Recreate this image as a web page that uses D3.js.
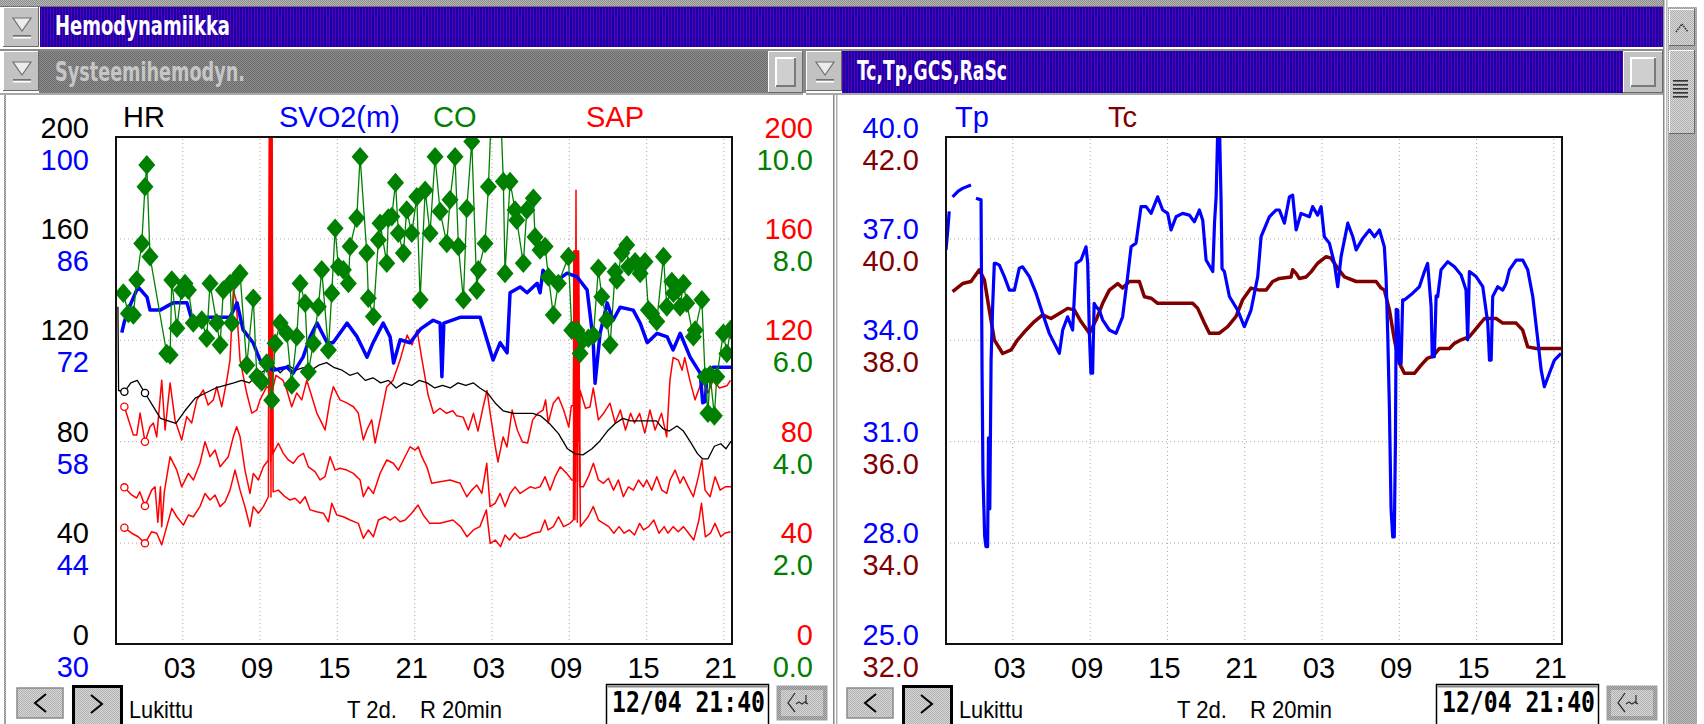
<!DOCTYPE html>
<html>
<head>
<meta charset="utf-8">
<title>Hemodynamiikka</title>
<script src="https://cdn.jsdelivr.net/npm/d3@7"></script>
<style>
  html, body { margin: 0; padding: 0; background: #fff; overflow: hidden; }
  svg { display: block; }
</style>
</head>
<body>
<div id="chart"></div>
<script>
// time axis: hours since 11/04 00:00, window ends 12/04 21:40 (T 2d.)
const hourDomain = [-2.15, 45.67];
const hourTicks = [3, 9, 15, 21, 27, 33, 39, 45];
const hourLabels = ['03', '09', '15', '21', '03', '09', '15', '21'];

// axis label values
const hrTicks = [0, 40, 80, 120, 160, 200];
const svoTicks = [30, 44, 58, 72, 86, 100];
const sapTicks = [0, 40, 80, 120, 160, 200];
const coTicks = [0, 2, 4, 6, 8, 10];
const tpTicks = [25, 28, 31, 34, 37, 40];
const tcTicks = [32, 34, 36, 38, 40, 42];

// first two samples are drawn with a small "o"
const startMarks = [-1.5, 0.1];

// HR, black
const hrData = [
  [-2.0,133],[-1.95,100],[-1.5,99.5],[-1.0,103],[-0.5,104],[0.1,99],[0.7,94],[1.3,89],[1.9,88],[2.5,87],
  [3.2,92],[4.0,97],[4.8,99],[5.6,101],[6.3,102],[7.0,103],[7.6,104],[8.2,103],[8.8,106],[9.4,108],
  [10.0,110],[10.6,107],[11.2,110],[11.8,108],[12.4,109],[13.0,108],[13.6,110],[14.2,111],[14.8,109],[15.4,108],
  [16.0,106],[16.6,107],[17.2,104],[17.8,105],[18.4,103],[19.0,104],[19.6,101],[20.2,103],[20.8,102],[21.4,104],
  [22.0,103],[22.6,101],[23.2,102],[23.8,101],[24.4,103],[25.0,102],[25.6,103],[26.1,101],[26.7,99],[27.3,95],
  [27.9,92],[28.7,91],[29.5,91],[30.2,91],[30.8,90],[31.5,87],[32.2,83],[32.9,77],[33.5,75],[34.1,74.6],
  [34.8,77],[35.4,80],[36.0,84],[36.6,87],[37.2,89],[37.8,88],[38.5,88],[39.2,88],[39.8,88],[40.3,85],
  [40.8,84],[41.4,86],[41.9,84],[42.4,80],[43.0,75],[43.4,73],[43.8,73],[44.3,78],[44.8,79],[45.2,77],[45.6,80]
];

// SVO2(m), blue
const svo2Data = [
  [-1.7,73.0],[-1.5,74.5],[-1.0,77.0],[-0.44,79.3],[0.26,77.9],[0.49,76.1],[1.27,76.1],[2.28,77.1],[3.36,77.1],[3.75,74.7],
  [4.92,75.1],[6.7,75.1],[7.25,77.1],[7.71,73.4],[8.49,71.6],[9.03,69.2],[10.04,67.8],[11.13,68.2],[11.6,67.4],[12.37,69.6],
  [12.92,72.4],[13.46,74.3],[14.24,71.6],[14.7,71.6],[15.79,74.3],[16.57,72.4],[17.34,69.6],[17.81,71.6],[18.59,74.3],[19.13,72.4],
  [19.4,68.8],[19.91,72.0],[20.68,71.6],[21.5,73.5],[22.47,74.7],[23.01,74.3],[23.15,66.9],[23.3,74.3],[24.56,75.1],[26.12,75.1],
  [27.12,69.2],[27.67,71.6],[28.21,70.2],[28.44,78.5],[29.22,79.3],[29.76,78.5],[30.54,79.8],[30.77,78.5],[31.0,81.6],[31.78,79.8],
  [32.87,81.2],[33.64,80.7],[34.42,78.9],[34.89,72.0],[35.04,66.0],[35.43,72.9],[35.98,77.1],[36.44,74.7],[36.99,76.5],[38.0,76.1],
  [38.54,74.3],[39.09,71.6],[39.86,72.9],[40.64,72.4],[41.1,70.6],[41.65,72.9],[42.42,69.6],[43.2,67.4],[43.4,63.3],[43.6,63.5],
  [43.74,67.8],[44.21,68.2],[45.67,68.2]
];

// CO, green with markers
const coData = [
  [-1.58,6.92],[-1.19,6.52],[-0.80,6.49],[-0.54,7.18],[-0.15,7.90],[0.10,9.02],[0.24,9.45],[0.49,7.64],[1.79,5.73],[2.05,5.70],
  [2.18,7.18],[2.57,6.23],[2.95,6.98],[3.21,7.11],[3.47,6.98],[3.85,6.33],[4.51,6.39],[4.89,6.03],[5.15,7.11],[5.67,6.33],
  [5.93,5.90],[6.18,6.98],[6.70,7.11],[6.84,6.33],[7.09,7.18],[7.48,7.31],[8.00,5.50],[8.51,6.82],[8.78,5.27],[9.03,5.21],
  [9.16,5.17],[9.55,5.54],[9.94,4.81],[10.20,5.93],[10.59,6.33],[11.11,6.13],[11.49,5.11],[11.88,6.06],[12.14,7.11],[12.53,6.72],
  [12.78,5.37],[13.17,5.93],[13.56,6.65],[13.82,7.38],[14.34,5.80],[14.60,6.92],[14.86,8.20],[15.11,7.44],[15.50,7.38],[15.89,7.11],
  [16.02,7.84],[16.54,8.40],[16.80,9.61],[17.32,7.71],[17.44,6.82],[17.83,6.46],[18.22,7.97],[18.35,8.30],[18.87,7.51],[18.99,8.40],
  [19.26,8.43],[19.55,9.10],[19.77,8.10],[20.16,7.71],[20.42,8.56],[20.81,8.10],[21.20,8.82],[21.46,6.79],[21.85,8.95],[22.23,8.10],
  [22.62,9.61],[23.01,8.53],[23.53,7.90],[23.78,8.76],[24.17,9.61],[24.43,7.84],[24.82,6.79],[25.08,8.59],[25.47,9.91],[25.86,6.98],
  [25.98,7.38],[26.50,7.90],[26.76,9.02],[27.05,10.9],[27.65,10.9],[27.92,9.12],[28.05,7.31],[28.44,9.12],[28.83,8.56],[28.96,8.36],
  [29.47,7.51],[29.74,8.56],[30.25,8.79],[30.38,8.03],[30.77,7.77],[31.16,7.84],[31.42,7.24],[31.80,6.49],[32.19,7.11],[32.97,7.64],
  [33.23,6.19],[33.62,6.19],[33.88,5.73],[34.13,6.00],[34.52,6.03],[34.91,6.09],[35.30,7.41],[35.56,6.85],[35.95,6.39],[36.21,5.90],
  [36.60,7.34],[36.73,7.18],[37.11,7.71],[37.50,7.87],[37.63,7.44],[38.15,7.54],[38.54,7.31],[38.92,7.54],[39.18,6.59],[39.44,6.52],
  [39.83,6.36],[40.35,7.64],[40.61,6.65],[41.00,7.15],[41.12,6.92],[41.39,6.98],[41.64,6.65],[41.90,7.11],[42.16,6.72],[42.67,6.06],
  [42.81,6.19],[43.33,6.79],[43.58,5.27],[43.80,4.55],[43.97,5.31],[44.30,4.50],[44.49,5.27],[45.00,6.13],[45.27,5.73],[45.55,6.2]
];

// SAP systolic / mean / diastolic, red (artefact bursts near 10 h and 33.5 h)
const sapSys = [
  [-1.5,93.6],[-0.8,82.4],[-0.54,82.4],[-0.28,91.1],[0.1,79.8],[0.49,85.7],[0.75,87.2],[1.01,81.7],[1.4,104],[1.66,84.4],
  [2.05,103],[2.43,88.4],[2.95,80.5],[3.34,89.7],[3.73,87.2],[4.12,96.3],[4.63,100.2],[5.0,94.3],[5.41,96.3],[5.67,101.5],
  [6.06,93.6],[6.45,104],[6.7,112],[6.96,139.6],[7.17,135.7],[7.48,112],[8.0,98.9],[8.39,91.1],[8.78,92.3],[9.03,96.3],
  [9.55,101.5],[9.72,101],[9.76,215],[9.84,95],[9.9,215],[9.98,100],[10.27,106],[10.82,104],[11.11,100.2],[11.49,93.6],
  [11.88,99],[12.27,96.3],[12.66,104],[13.05,97.6],[13.44,91.1],[13.82,87.2],[14.08,84.4],[14.47,96.3],[14.72,101.5],[15.24,96.3],
  [15.76,95.1],[16.28,93.6],[16.66,91.1],[17.05,80.5],[17.32,84.4],[17.7,88.4],[17.96,79.3],[18.35,88.4],[18.87,101.5],[19.36,104],
  [19.9,112],[20.45,121.9],[20.83,118],[21.22,123.9],[21.61,112],[22.08,98.2],[22.5,91],[23.0,93],[23.5,91],[24.0,92],
  [24.3,90],[24.8,89.5],[25.2,84.4],[25.6,91],[25.95,84],[26.35,93.5],[26.65,100],[26.9,91],[27.3,77.7],[27.5,71.8],
  [27.9,81.7],[28.2,77.7],[28.6,92.3],[29.0,84.4],[29.4,79.7],[29.8,79.3],[30.2,88.4],[30.6,91],[31.0,92.3],[31.2,96.3],
  [31.4,87.2],[31.8,95],[32.2,97.4],[32.6,92.3],[33.0,85.6],[33.2,94],[33.35,94],[33.42,155],[33.5,80],[33.56,179],
  [33.62,78],[33.7,155],[33.78,80],[33.88,100],[34.3,93],[34.65,93.5],[34.9,101],[35.3,88.4],[35.7,91],[36.2,95],
  [36.6,87.2],[37.0,92.3],[37.4,84.4],[37.8,91],[38.1,87.2],[38.5,91],[38.9,83.2],[39.3,92.3],[39.7,84.4],[40.2,91],
  [40.6,81.7],[40.85,104],[41.1,113],[41.5,112],[41.8,108],[42.0,113],[42.4,104],[42.8,96.3],[43.35,104],[43.8,99],
  [44.2,104],[44.7,101],[45.3,102],[45.55,104]
];
const sapMean = [
  [-1.5,61.8],[-0.94,58.8],[-0.55,57.6],[-0.3,60],[0.1,54.4],[0.62,60.7],[0.88,62],[1.1,48],[1.3,62],[1.4,46.3],
  [1.6,60],[2.05,73.9],[2.57,68.6],[2.95,62],[3.47,67.3],[3.86,64.7],[4.37,71.3],[4.76,79.8],[5.15,73.9],[5.54,76.5],
  [5.93,69.9],[6.57,73.9],[6.96,81.8],[7.22,85.7],[7.48,81.8],[7.86,68.6],[8.25,59.4],[8.51,67.3],[8.9,64.7],[9.29,69.9],
  [9.68,72.6],[9.78,215],[9.86,72],[9.94,215],[10.02,75],[10.45,79.2],[10.84,75.2],[11.23,72.6],[11.62,71.3],[12.0,73.9],
  [12.4,75.2],[12.78,69.9],[13.3,68],[13.69,64.7],[14.08,66],[14.47,73.9],[14.86,68.6],[15.24,69.3],[15.76,68.6],[16.28,67.3],
  [16.8,64.7],[17.05,58.1],[17.44,62],[17.83,59.4],[18.35,67.3],[18.87,72.6],[19.38,71.3],[19.77,68.6],[20.16,72.6],[20.68,77.8],
  [21.07,76.5],[21.32,77.8],[21.59,73.9],[21.98,69.9],[22.36,63.4],[23.01,64],[23.78,64.7],[24.56,63.4],[25.08,58.1],[25.47,60.7],
  [25.86,62.7],[26.25,59.4],[26.63,71.3],[26.89,54.2],[27.28,55.5],[27.67,59.4],[28.05,54.2],[28.44,59.4],[28.83,62],[29.22,59.4],
  [29.61,60.7],[30.0,62],[30.39,61.4],[30.77,62],[31.16,66],[31.55,60.7],[31.94,66],[32.33,69.9],[32.84,67.3],[33.23,64.7],
  [33.38,64.7],[33.44,155],[33.52,64],[33.6,155],[33.68,64],[33.76,155],[33.86,62],[34.13,62],[34.52,66],[34.91,71.3],
  [35.3,64.7],[35.69,63.4],[36.08,65.4],[36.47,60.7],[36.85,64.7],[37.24,58.1],[37.63,62],[38.02,60.7],[38.41,64.7],[38.79,62],
  [39.05,64.7],[39.44,60.7],[39.83,66],[40.22,60.7],[40.61,59.4],[40.86,64.7],[41.25,68.6],[41.64,63.4],[41.9,66],[42.28,62],
  [42.67,58.1],[43.06,66],[43.33,72.6],[43.58,60.7],[43.97,58.1],[44.36,66],[44.75,60.7],[45.14,62],[45.6,62]
];
const sapDia = [
  [-1.5,45.9],[-0.93,43.7],[-0.42,42.3],[0.1,39.7],[0.62,44.3],[1.01,43.7],[1.4,39.1],[1.79,46.3],[2.18,53.5],[2.57,50.2],
  [3.08,46.9],[3.47,50.9],[3.85,50.2],[4.37,54.2],[4.76,59.4],[5.15,56.8],[5.54,58.8],[5.93,54.2],[6.32,56.1],[6.7,60.7],
  [7.09,68.6],[7.48,60.7],[7.86,54.2],[8.25,46.3],[8.51,54.2],[8.9,51.6],[9.29,54.2],[9.68,58.1],[9.8,215],[9.88,58],
  [9.96,215],[10.05,60],[10.45,60.7],[10.97,58.1],[11.36,56.8],[11.75,57.5],[12.14,55.5],[12.53,58.1],[12.92,52.9],[13.43,52.2],
  [13.95,51.6],[14.34,48.2],[14.6,55.5],[14.99,50.9],[15.5,50.2],[16.02,48.9],[16.66,47.6],[17.05,41.7],[17.44,45],[17.83,42.3],
  [18.22,48.9],[18.74,50.2],[19.13,48.9],[19.5,50.2],[19.9,48.2],[20.3,48.9],[20.8,51.6],[21.3,54.8],[21.7,50.9],[22.2,47.6],
  [23.0,47.6],[24.0,48.9],[24.6,46.3],[25.1,42.3],[25.6,45],[26.1,46.3],[26.6,52.9],[26.9,39.7],[27.3,41],[27.7,38.4],
  [28.05,43],[28.4,41],[28.8,43.7],[29.2,41.7],[29.7,42.3],[30.25,43.7],[30.8,44.3],[31.15,48.9],[31.4,45],[31.8,46.3],
  [32.2,50.2],[32.6,46.3],[33.1,47.6],[33.36,49],[33.4,155],[33.48,49],[33.58,155],[33.66,48],[33.74,155],[33.9,46.3],
  [34.5,50.2],[34.9,54.2],[35.3,48.9],[35.7,47.6],[36.1,46.3],[36.5,43.7],[36.9,46.3],[37.3,43.7],[37.7,45],[38.1,43],
  [38.5,47.6],[38.8,45],[39.2,46.3],[39.6,48.9],[40.0,43.7],[40.4,46.3],[40.7,43.7],[41.1,46.3],[41.5,44.3],[41.9,46.3],
  [42.3,43.7],[42.7,41],[43.1,48.9],[43.3,55.5],[43.6,42.3],[44.0,43.7],[44.35,47.6],[44.8,42.3],[45.1,43.7],[45.55,44.3]
];

// Tp (blue) and Tc (dark red), right panel; null value = gap in the trace
const tpData = [
  [-2.15,36.66],[-2.0,37.3],[-1.9,37.8],[-1.8,null],
  [-1.64,38.23],[-1.2,38.4],[-0.86,38.48],[-0.21,38.58],[0.0,null],
  [0.18,38.19],[0.57,38.14],[0.65,33.0],[0.72,30.0],[0.85,28.2],[0.95,27.88],[1.08,27.88],[1.15,31.1],[1.25,29.0],[1.35,33.4],[1.47,34.98],
  [1.6,36.26],[1.73,36.26],[1.99,36.21],[2.38,35.87],[2.77,35.47],[3.16,35.47],[3.54,36.12],[3.8,36.16],[4.32,35.87],[4.84,35.38],
  [5.35,34.78],[5.87,34.19],[6.65,33.60],[6.91,34.29],[7.29,34.68],[7.68,34.29],[7.95,36.26],[8.33,36.36],[8.72,36.75],[8.85,36.26],
  [8.98,34.19],[9.1,33.01],[9.23,33.01],[9.35,35.08],[9.5,34.98],[9.75,34.88],[10.01,34.59],[10.53,34.29],[11.05,34.19],[11.56,34.68],
  [11.95,35.87],[12.22,36.75],[12.6,36.86],[12.99,37.94],[13.38,37.94],[13.77,37.74],[14.28,38.23],[14.67,37.84],[15.06,37.74],[15.32,37.25],
  [15.71,37.64],[16.22,37.74],[16.74,37.69],[17.13,37.49],[17.52,37.84],[17.78,37.54],[18.04,36.36],[18.56,36.02],[18.7,37.5],[18.82,38.23],
  [18.95,40.3],[19.08,40.3],[19.2,38.2],[19.28,36.1],[19.46,36.02],[19.85,35.28],[20.49,34.88],[21.01,34.39],[21.53,34.88],[22.05,35.87],
  [22.31,37.05],[22.95,37.64],[23.47,37.84],[23.73,37.84],[24.12,37.45],[24.51,38.23],[24.76,38.28],[25.03,37.25],[25.41,37.74],[26.06,37.64],
  [26.31,37.94],[26.70,37.69],[26.97,37.94],[27.22,37.05],[27.61,36.86],[28.0,36.26],[28.26,35.57],[28.52,36.46],[29.04,37.45],[29.43,37.05],
  [29.69,36.66],[30.2,37.0],[30.72,37.25],[31.11,37.05],[31.5,37.25],[31.88,36.75],[32.01,35.87],[32.14,34.19],[32.27,32.0],[32.4,29.0],
  [32.53,28.17],[32.65,28.17],[32.74,31.0],[32.8,34.9],[32.92,34.88],[33.05,33.3],[33.18,33.3],[33.3,35.18],[33.43,35.18],[34.08,35.38],
  [34.6,35.57],[34.99,36.02],[35.24,36.26],[35.51,34.98],[35.6,33.5],[35.76,33.5],[35.9,35.3],[36.02,35.28],[36.28,36.07],[36.8,36.31],
  [37.32,36.16],[37.84,35.92],[38.22,35.47],[38.35,34.0],[38.48,36.02],[39.0,35.87],[39.52,35.57],[39.91,34.49],[40.04,33.4],[40.17,33.4],
  [40.29,35.28],[40.68,35.57],[41.07,35.47],[41.33,35.67],[41.59,36.07],[42.11,36.36],[42.62,36.36],[43.01,36.07],[43.4,35.28],[43.79,34.0],
  [44.05,33.11],[44.3,32.61],[44.69,33.01],[45.08,33.40],[45.6,33.6]
];
const tcData = [
  [-1.64,38.95],[-0.86,39.11],[-0.21,39.15],[0.44,39.38],[0.83,39.18],[1.21,38.59],[1.6,38.0],[2.25,37.73],[2.9,37.8],[3.41,38.0],
  [4.06,38.19],[4.71,38.36],[5.35,38.49],[6.0,38.42],[6.65,38.52],[7.29,38.62],[7.81,38.59],[8.33,38.36],[8.98,38.13],[9.5,38.39],
  [10.01,38.72],[10.53,38.98],[11.18,39.11],[11.56,39.02],[12.08,39.15],[12.86,39.15],[13.25,38.85],[13.77,38.82],[14.28,38.72],[14.67,38.72],
  [17.0,38.72],[17.39,38.62],[17.91,38.33],[18.3,38.13],[19.07,38.13],[19.72,38.26],[20.37,38.46],[20.88,38.79],[21.53,39.02],[22.18,38.98],
  [22.7,38.98],[23.21,39.15],[23.73,39.21],[24.64,39.24],[24.76,39.38],[25.03,39.31],[25.28,39.21],[25.8,39.24],[26.19,39.34],[26.7,39.51],
  [27.36,39.64],[27.74,39.61],[28.26,39.41],[28.78,39.24],[29.69,39.15],[31.24,39.15],[31.63,39.02],[31.88,38.98],[32.27,38.59],[32.66,38.0],
  [33.05,37.54],[33.43,37.34],[34.21,37.34],[34.73,37.5],[35.24,37.64],[35.63,37.67],[36.15,37.83],[36.93,37.83],[37.32,37.93],[37.84,38.0],
  [38.48,38.06],[39.13,38.26],[39.65,38.42],[40.56,38.42],[41.07,38.33],[42.11,38.33],[42.62,38.19],[43.01,37.86],[43.66,37.83],[45.67,37.83]
];

// ---------------------------------------------------------------
const W = 1704, H = 724;
const panelShift = 830;          // right panel is the left one moved right
const plotLeft = 116, plotW = 616;
const plotTop = 137, plotBottom = 644;
const labelFont = 'Liberation Sans, Arial, Helvetica, sans-serif';
const uiFont = 'DejaVu Sans Condensed, DejaVu Sans, sans-serif';

const svg = d3.select('#chart').append('svg')
  .attr('width', W)
  .attr('height', H);

const defs = svg.append('defs');

function checker(id, a, b) {
  const p = defs.append('pattern').attr('id', id)
    .attr('width', 2).attr('height', 2).attr('patternUnits', 'userSpaceOnUse');
  p.append('rect').attr('width', 2).attr('height', 2).attr('fill', a);
  p.append('rect').attr('width', 1).attr('height', 1).attr('fill', b);
  p.append('rect').attr('x', 1).attr('y', 1).attr('width', 1).attr('height', 1).attr('fill', b);
}
checker('ditherDark', '#8e8e8e', '#6a6a6a');
checker('ditherMid', '#b8b8b8', '#8c8c8c');
checker('ditherLight', '#d6d6d6', '#b2b2b2');
checker('ditherTrack', '#bcbcbc', '#989898');

const stripe = defs.append('pattern').attr('id', 'titleBlue')
  .attr('width', 3).attr('height', 4).attr('patternUnits', 'userSpaceOnUse');
stripe.append('rect').attr('width', 3).attr('height', 4).attr('fill', '#1800b2');
stripe.append('rect').attr('x', 2).attr('width', 1).attr('height', 4).attr('fill', '#5e00a2');

svg.append('rect').attr('width', W).attr('height', H).attr('fill', '#fff');

// ---------- window chrome ----------
function bevel(x, y, w, h, fill) {
  const g = svg.append('g');
  g.append('rect').attr('x', x).attr('y', y).attr('width', w).attr('height', h).attr('fill', fill);
  g.append('path').attr('d', `M${x + 0.5},${y + h}V${y + 0.5}H${x + w}`).attr('stroke', '#fff').attr('fill', 'none');
  g.append('path').attr('d', `M${x},${y + h - 0.5}H${x + w - 0.5}V${y}`).attr('stroke', '#6a6a6a').attr('fill', 'none');
  return g;
}

function dropButton(x, y) {
  const g = bevel(x, y, 36, 40, '#c2c2c2');
  g.append('path')
    .attr('d', `M${x + 10},${y + 11}H${x + 28}L${x + 19},${y + 24}Z`)
    .attr('fill', '#ececec').attr('stroke', '#707070').attr('stroke-width', 1.2);
  g.append('rect').attr('x', x + 10).attr('y', y + 28).attr('width', 18).attr('height', 1.5).attr('fill', '#707070');
  g.append('rect').attr('x', x + 10).attr('y', y + 30).attr('width', 18).attr('height', 1.5).attr('fill', '#fff');
}

function squareButton(x, y, w, h) {
  const g = bevel(x, y, w, h, '#c2c2c2');
  g.append('rect').attr('x', x + 8).attr('y', y + 7).attr('width', w - 16).attr('height', h - 14)
    .attr('fill', '#cfcfcf').attr('stroke', '#ffffff').attr('stroke-width', 2);
  g.append('path').attr('d', `M${x + 8},${y + h - 7}H${x + w - 8}V${y + 7}`)
    .attr('fill', 'none').attr('stroke', '#7a7a7a').attr('stroke-width', 2);
}

svg.append('rect').attr('x', 0).attr('y', 0).attr('width', 1665).attr('height', 7).attr('fill', 'url(#ditherMid)');
svg.append('rect').attr('x', 0).attr('y', 6).attr('width', 1665).attr('height', 1).attr('fill', '#707070');

// row 1
dropButton(3, 7);
svg.append('rect').attr('x', 40).attr('y', 7).attr('width', 1625).attr('height', 40).attr('fill', 'url(#titleBlue)');
svg.append('text').attr('x', 55).attr('y', 35)
  .attr('font-family', uiFont).attr('font-weight', 'bold').attr('font-size', 27)
  .attr('textLength', 175).attr('lengthAdjust', 'spacingAndGlyphs')
  .attr('fill', '#fff').text('Hemodynamiikka');
svg.append('rect').attr('x', 0).attr('y', 47).attr('width', 1665).attr('height', 2).attr('fill', '#fff');
svg.append('rect').attr('x', 0).attr('y', 49).attr('width', 1665).attr('height', 2).attr('fill', '#8a8a8a');

// row 2
dropButton(3, 51);
svg.append('rect').attr('x', 39).attr('y', 51).attr('width', 729).attr('height', 42).attr('fill', 'url(#ditherDark)');
svg.append('text').attr('x', 55).attr('y', 81)
  .attr('font-family', uiFont).attr('font-weight', 'bold').attr('font-size', 27)
  .attr('textLength', 190).attr('lengthAdjust', 'spacingAndGlyphs')
  .attr('fill', '#c6c6c6').text('Systeemihemodyn.');
squareButton(768, 51, 35, 42);
svg.append('rect').attr('x', 803).attr('y', 51).attr('width', 3).attr('height', 673).attr('fill', '#8a8a8a');
dropButton(806, 51);
svg.append('rect').attr('x', 842).attr('y', 51).attr('width', 781).attr('height', 42).attr('fill', 'url(#titleBlue)');
svg.append('text').attr('x', 857).attr('y', 80)
  .attr('font-family', uiFont).attr('font-weight', 'bold').attr('font-size', 27)
  .attr('textLength', 150).attr('lengthAdjust', 'spacingAndGlyphs')
  .attr('fill', '#fff').text('Tc,Tp,GCS,RaSc');
squareButton(1623, 51, 40, 42);
svg.append('rect').attr('x', 0).attr('y', 93).attr('width', 1665).attr('height', 2).attr('fill', '#a8a8a8');

// panel borders
svg.append('rect').attr('x', 4).attr('y', 95).attr('width', 2).attr('height', 629).attr('fill', 'url(#ditherMid)');
svg.append('rect').attr('x', 832).attr('y', 95).attr('width', 5).attr('height', 629).attr('fill', '#fff');
svg.append('rect').attr('x', 833).attr('y', 95).attr('width', 1.5).attr('height', 629).attr('fill', '#8a8a8a');
svg.append('rect').attr('x', 836).attr('y', 95).attr('width', 1.5).attr('height', 629).attr('fill', '#b0b0b0');
svg.append('rect').attr('x', 803).attr('y', 93).attr('width', 3).attr('height', 631).attr('fill', '#fff');

// scrollbar
svg.append('rect').attr('x', 1663).attr('y', 0).attr('width', 41).attr('height', H).attr('fill', '#fff');
svg.append('rect').attr('x', 1663).attr('y', 0).attr('width', 1.5).attr('height', H).attr('fill', '#8a8a8a');
svg.append('rect').attr('x', 1666).attr('y', 0).attr('width', 1.5).attr('height', H).attr('fill', '#b8b8b8');
svg.append('rect').attr('x', 1668).attr('y', 7).attr('width', 29).attr('height', H - 7).attr('fill', 'url(#ditherTrack)');
bevel(1669, 9, 26, 37, 'url(#ditherLight)');
svg.append('path').attr('d', 'M1676,32L1682,24L1688,32').attr('fill', 'none').attr('stroke', '#333').attr('stroke-width', 1.5).attr('stroke-dasharray', '1.5,1');
bevel(1669, 50, 26, 84, 'url(#ditherLight)');
d3.range(5).forEach(i => {
  svg.append('rect').attr('x', 1673).attr('y', 80 + i * 4).attr('width', 15).attr('height', 1.6).attr('fill', '#333');
});

// ---------- chart helpers ----------
const hourFmt = (d, i) => hourLabels[i];

function grid(g, x, yRef, yTicks) {
  g.append('g')
    .attr('transform', `translate(0,${plotBottom})`)
    .call(d3.axisBottom(x).tickValues(hourTicks).tickSize(-(plotBottom - plotTop)).tickFormat(''))
    .call(a => a.select('.domain').remove())
    .selectAll('line').attr('stroke', '#a8a8a8').attr('stroke-dasharray', '1,3');
  g.append('g')
    .attr('transform', `translate(${x.range()[0]},0)`)
    .call(d3.axisLeft(yRef).tickValues(yTicks).tickSize(-plotW).tickFormat(''))
    .call(a => a.select('.domain').remove())
    .selectAll('line').attr('stroke', '#a8a8a8').attr('stroke-dasharray', '1,3');
}

function labelAxis(xPos, scale, values, fmt, color, dy) {
  svg.append('g')
    .attr('transform', `translate(${xPos},0)`)
    .call(d3.axisLeft(scale).tickValues(values).tickFormat(fmt).tickSize(0).tickPadding(0))
    .attr('font-family', labelFont)
    .attr('font-size', 29)
    .call(a => a.select('.domain').remove())
    .selectAll('text').attr('fill', color).attr('dy', dy);
}

function timeAxis(x) {
  svg.append('g')
    .attr('transform', `translate(0,${plotBottom})`)
    .call(d3.axisBottom(x).tickValues(hourTicks).tickFormat(hourFmt).tickSize(0))
    .attr('font-family', labelFont)
    .attr('font-size', 29)
    .call(a => a.select('.domain').remove())
    .selectAll('text').attr('fill', '#000').attr('y', 34).attr('dy', 0).attr('dx', -3);
}

function legend(items, y) {
  items.forEach(it => {
    svg.append('text').attr('x', it.x).attr('y', y)
      .attr('font-family', labelFont).attr('font-size', 29)
      .attr('fill', it.color).text(it.name);
  });
}

function frame(x0) {
  svg.append('rect').attr('x', x0).attr('y', plotTop)
    .attr('width', plotW).attr('height', plotBottom - plotTop)
    .attr('fill', 'none').attr('stroke', '#111').attr('stroke-width', 2);
}

function clip(id, x0) {
  defs.append('clipPath').attr('id', id).append('rect')
    .attr('x', x0).attr('y', plotTop).attr('width', plotW).attr('height', plotBottom - plotTop);
}

function trace(layer, data, x, y, color, width) {
  const line = d3.line()
    .defined(d => d[1] != null)
    .x(d => x(d[0]))
    .y(d => y(d[1]));
  layer.append('path').datum(data)
    .attr('d', line)
    .attr('fill', 'none')
    .attr('stroke', color)
    .attr('stroke-width', width)
    .attr('stroke-linejoin', 'round');
}

function startCircles(layer, data, x, y, color) {
  layer.selectAll(null)
    .data(data.filter(d => startMarks.includes(d[0])))
    .enter().append('circle')
    .attr('cx', d => x(d[0]))
    .attr('cy', d => y(d[1]))
    .attr('r', 3.6)
    .attr('fill', '#fff')
    .attr('stroke', color)
    .attr('stroke-width', 1.3);
}

// ---------- left panel: Systeemihemodyn. ----------
const xL = d3.scaleLinear().domain(hourDomain).range([plotLeft, plotLeft + plotW]);
const yHR = d3.scaleLinear().domain([0, 200]).range([plotBottom, plotTop]);
const ySV = d3.scaleLinear().domain([30, 100]).range([plotBottom, plotTop]);
const yCO = d3.scaleLinear().domain([0, 10]).range([plotBottom, plotTop]);
const ySAP = d3.scaleLinear().domain([0, 200]).range([plotBottom, plotTop]);

clip('clipL', plotLeft);
grid(svg.append('g'), xL, yHR, [40, 80, 120, 160]);

const layerL = svg.append('g').attr('clip-path', 'url(#clipL)');
trace(layerL, sapDia, xL, ySAP, '#ff0000', 1.5);
trace(layerL, sapMean, xL, ySAP, '#ff0000', 1.5);
trace(layerL, sapSys, xL, ySAP, '#ff0000', 1.5);
startCircles(layerL, sapDia, xL, ySAP, '#ff0000');
startCircles(layerL, sapMean, xL, ySAP, '#ff0000');
startCircles(layerL, sapSys, xL, ySAP, '#ff0000');
trace(layerL, hrData, xL, yHR, '#000000', 1.3);
startCircles(layerL, hrData, xL, yHR, '#000000');
trace(layerL, svo2Data, xL, ySV, '#0000ff', 3.5);
trace(layerL, coData, xL, yCO, '#008000', 1.3);

const diamond = {
  draw(ctx, size) {
    const w = Math.sqrt(size) / 2, h = w * 1.15;
    ctx.moveTo(0, -h); ctx.lineTo(w, 0); ctx.lineTo(0, h); ctx.lineTo(-w, 0); ctx.closePath();
  }
};
layerL.selectAll('.co-mark')
  .data(coData)
  .enter().append('path')
  .attr('class', 'co-mark')
  .attr('d', d3.symbol().type(diamond).size(290))
  .attr('transform', d => `translate(${xL(d[0])},${yCO(d[1])})`)
  .attr('fill', '#008000');

frame(plotLeft);
timeAxis(xL);
labelAxis(89, yHR, hrTicks, d3.format('d'), '#000000', 0);
labelAxis(89, ySV, svoTicks, d3.format('d'), '#0000ff', 32);
labelAxis(813, ySAP, sapTicks, d3.format('d'), '#ff0000', 0);
labelAxis(813, yCO, coTicks, d3.format('.1f'), '#008000', 32);
legend([
  { name: 'HR', x: 123, color: '#000000' },
  { name: 'SVO2(m)', x: 279, color: '#0000ff' },
  { name: 'CO', x: 433, color: '#008000' },
  { name: 'SAP', x: 586, color: '#ff0000' }
], 127);

// ---------- right panel: Tc,Tp ----------
const xR = d3.scaleLinear().domain(hourDomain).range([plotLeft + panelShift, plotLeft + panelShift + plotW]);
const yTp = d3.scaleLinear().domain([25, 40]).range([plotBottom, plotTop]);
const yTc = d3.scaleLinear().domain([32, 42]).range([plotBottom, plotTop]);

clip('clipR', plotLeft + panelShift);
grid(svg.append('g'), xR, yTp, [28, 31, 34, 37]);
const layerR = svg.append('g').attr('clip-path', 'url(#clipR)');
trace(layerR, tcData, xR, yTc, '#800000', 3.5);
trace(layerR, tpData, xR, yTp, '#0000ff', 3.2);
frame(plotLeft + panelShift);
timeAxis(xR);
labelAxis(89 + panelShift, yTp, tpTicks, d3.format('.1f'), '#0000ff', 0);
labelAxis(89 + panelShift, yTc, tcTicks, d3.format('.1f'), '#800000', 32);
legend([
  { name: 'Tp', x: 955, color: '#0000ff' },
  { name: 'Tc', x: 1108, color: '#800000' }
], 127);

// ---------- navigation bars ----------
function navBar(dx) {
  const g = svg.append('g');
  // "<" button
  g.append('rect').attr('x', dx + 17).attr('y', 688).attr('width', 46).attr('height', 30)
    .attr('fill', 'url(#ditherLight)').attr('stroke', '#8a8a8a').attr('stroke-width', 1.5);
  g.append('path').attr('d', `M${dx + 46},${694}L${dx + 35},${703}L${dx + 46},${712}`)
    .attr('fill', 'none').attr('stroke', '#000').attr('stroke-width', 2);
  // ">" button with focus border
  g.append('rect').attr('x', dx + 73.5).attr('y', 686.5).attr('width', 48).attr('height', 40)
    .attr('fill', 'url(#ditherLight)').attr('stroke', '#000').attr('stroke-width', 3);
  g.append('path').attr('d', `M${dx + 91},${695}L${dx + 102},${704}L${dx + 91},${713}`)
    .attr('fill', 'none').attr('stroke', '#000').attr('stroke-width', 2);
  g.append('text').attr('x', dx + 129).attr('y', 718)
    .attr('font-family', labelFont).attr('font-size', 24)
    .attr('textLength', 64).attr('lengthAdjust', 'spacingAndGlyphs').text('Lukittu');
  g.append('text').attr('x', dx + 347).attr('y', 718)
    .attr('font-family', labelFont).attr('font-size', 24)
    .attr('textLength', 50).attr('lengthAdjust', 'spacingAndGlyphs').text('T 2d.');
  g.append('text').attr('x', dx + 420).attr('y', 718)
    .attr('font-family', labelFont).attr('font-size', 24)
    .attr('textLength', 82).attr('lengthAdjust', 'spacingAndGlyphs').text('R 20min');
  // date box
  g.append('rect').attr('x', dx + 606.5).attr('y', 684.5).attr('width', 162).attr('height', 45)
    .attr('fill', '#fff').attr('stroke', '#000').attr('stroke-width', 1.5);
  g.append('rect').attr('x', dx + 607.5).attr('y', 685.5).attr('width', 160).attr('height', 2)
    .attr('fill', '#888');
  g.append('text').attr('x', dx + 612).attr('y', 712)
    .attr('font-family', 'DejaVu Sans Mono, Liberation Mono, monospace').attr('font-size', 28)
    .attr('font-weight', 'bold')
    .attr('textLength', 153).attr('lengthAdjust', 'spacingAndGlyphs').text('12/04 21:40');
  // return button
  g.append('rect').attr('x', dx + 777).attr('y', 686).attr('width', 50).attr('height', 34)
    .attr('fill', 'url(#ditherMid)').attr('stroke', '#a0a0a0');
  g.append('rect').attr('x', dx + 781).attr('y', 690).attr('width', 42).attr('height', 26)
    .attr('fill', 'url(#ditherLight)');
  g.append('path').attr('d', `M${dx + 795},${693}L${dx + 788},${703}L${dx + 795},${712}`)
    .attr('fill', 'none').attr('stroke', '#333').attr('stroke-width', 1.3);
  g.append('path').attr('d', `M${dx + 796},${704}l3,-2l3,2l3,-2l3,2M${dx + 806},${695}v9`)
    .attr('fill', 'none').attr('stroke', '#333').attr('stroke-width', 1.2);
}
navBar(0);
navBar(panelShift);
</script>
</body>
</html>
